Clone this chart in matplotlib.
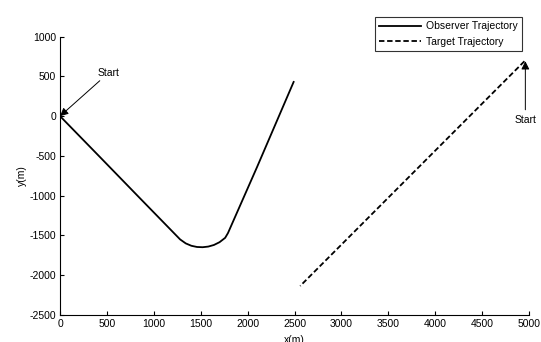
import numpy as np
import matplotlib.pyplot as plt

plt.rcParams['font.family'] = ['Liberation Sans', 'DejaVu Sans']
plt.rcParams['axes.unicode_minus'] = False

# observer path: straight leg, turn, straight leg
obs_x = [0, 430, 850, 1280, 1340, 1400, 1460, 1520, 1580, 1640, 1700, 1760, 1790, 2100, 2490]
obs_y = [0, -520, -1030, -1550, -1600, -1630, -1645, -1648, -1640, -1620, -1585, -1530, -1470, -640, 430]

# target path (straight line)
tgt_x = [4950, 2560]
tgt_y = [690, -2135]

fig = plt.figure(figsize=(5.41, 3.42), dpi=100)
ax = fig.add_axes([0.111, 0.079, 0.867, 0.814])

ax.plot(obs_x, obs_y, 'k-', lw=1.3, label='Observer Trajectory')
ax.plot(tgt_x, tgt_y, 'k--', lw=1.3, dashes=(3, 1.5), label='Target Trajectory')

ax.set_xlim(0, 5000)
ax.set_ylim(-2500, 1000)
ax.set_xticks(range(0, 5001, 500))
ax.set_yticks(range(-2500, 1001, 500))
ax.tick_params(direction='in', labelsize=7.5, length=3, width=0.8, pad=3)
for s in ['top', 'right']:
    ax.spines[s].set_visible(False)
ax.spines['left'].set_linewidth(0.8)
ax.spines['bottom'].set_linewidth(0.8)

ax.set_xlabel('x(m)', fontsize=7.5, labelpad=4)
ax.set_ylabel('y(m)', fontsize=7.5, labelpad=2)

ax.annotate('Start', xy=(0, 0), xytext=(400, 480), fontsize=7.5,
            ha='left', va='bottom',
            arrowprops=dict(arrowstyle='-|>', color='k', lw=0.7,
                            mutation_scale=12, shrinkA=0, shrinkB=0),
            annotation_clip=False)
ax.annotate('Start', xy=(4960, 690), xytext=(4960, 10), fontsize=7.5,
            ha='center', va='top',
            arrowprops=dict(arrowstyle='-|>', color='k', lw=0.7,
                            mutation_scale=12, shrinkA=2, shrinkB=0),
            annotation_clip=False)

leg = fig.legend(loc='upper right', bbox_to_anchor=(0.975, 0.965),
                 fontsize=7.5, frameon=True, fancybox=False,
                 edgecolor='k', handlelength=4, borderpad=0.4,
                 labelspacing=0.5, handletextpad=0.5)
leg.get_frame().set_linewidth(0.8)

fig.savefig('out.png', dpi=100)
